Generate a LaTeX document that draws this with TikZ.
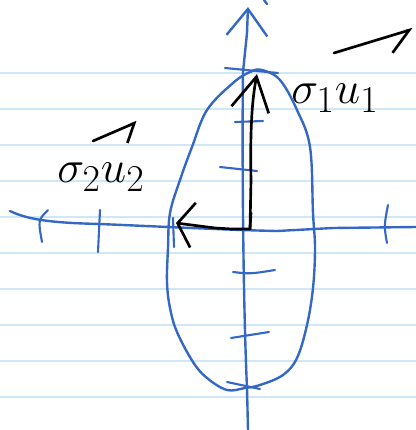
\documentclass[tikz,border=0pt]{standalone}
\usepackage{amsmath}
\usepackage{tikz}
\usetikzlibrary{arrows.meta,calc}
\definecolor{inkblue}{RGB}{52,104,196}
\definecolor{paperrule}{RGB}{208,231,248}
\newcommand{\bigvec}[1]{\scalebox{1.3}{$#1$}}
\tikzset{
  ruling/.style={draw=paperrule, line width=0.9pt},
  axisline/.style={draw=inkblue, line width=1.7pt, line cap=round, line join=round},
  tickmark/.style={draw=inkblue, line width=1.5pt, line cap=round},
  vecline/.style={draw=black, line width=1.9pt, line cap=round, line join=round},
  veclabel/.style={font=\fontsize{24.88}{30}\selectfont, inner sep=0pt}
}
\begin{document}
\begin{tikzpicture}[x=0.025cm, y=-0.025cm]
        \fill[white] (0,0) rectangle (416,430);
        \useasboundingbox (0,0) rectangle (416,430);
        \foreach \y in {73,109,...,397}
          \draw[ruling] (0,\y) -- (416,\y);
        \coordinate (o) at (250,229);
        \coordinate (ytip) at (248,7);
        \coordinate (ybot) at (248,430);
        \coordinate (xleft) at (10,211);
        \coordinate (xright) at (416,227);
        \coordinate (u1tip) at (257,74);
        \coordinate (u2tip) at (176,223);
        \draw[axisline] (xleft) .. controls (30,221) and (60,223) .. (100,224)
          .. controls (170,227) and (230,230) .. (277,231) -- (333,228) -- (xright);
        \draw[axisline, -{Straight Barb[length=19pt, width=29pt]}] (ybot) -- (247,388)
          .. controls (243,300) and (242,150) .. (243,72) -- (247,33) -- (ytip);
        \draw[axisline] (264,0) -- (267,4);
        \draw[axisline] plot[smooth cycle, tension=0.6] coordinates {
          (262,70) (280,80) (297,110) (310,147) (313,213) (315,248) (313,288)
          (307,325) (297,358) (283,375) (260,385) (245,388) (227,390) (207,378)
          (193,362) (177,332) (170,308) (167,282) (168,248) (170,213) (180,180)
          (192,147) (207,110) (233,83) (250,72)};
        \draw[tickmark] (225,68) -- (278,73);
        \draw[tickmark] (235,122) -- (263,121);
        \draw[tickmark] (220,167) -- (257,171);
        \draw[tickmark] (233,272) .. controls (250,274) .. (275,270);
        \draw[tickmark] (231,338) -- (269,332);
        \draw[tickmark] (227,382) -- (260,389);
        \draw[tickmark] (48,210) .. controls (38,220) .. (42,242);
        \draw[tickmark] (100,210) -- (98,252);
        \draw[tickmark] (173,218) -- (174,247);
        \draw[tickmark] (388,205) .. controls (384,226) .. (387,243);
        \draw[vecline, -{Straight Barb[length=24pt, width=27pt]}] (o) -- (251,180)
          .. controls (250,130) and (252,100) .. (u1tip);
        \draw[vecline, -{Straight Barb[length=11pt, width=32pt]}] (o) -- (251,213)
          (o) -- (232,229) -- (215,228) -- (u2tip);
        \node[veclabel] (s1u1) at (335,98) {\bigvec{\sigma_1 u_1}};
        \node[veclabel] (s2u2) at (101,177) {\bigvec{\sigma_2 u_2}};
        \coordinate (v1a) at (334,53);
        \coordinate (v1b) at (413,29);
        \coordinate (v2a) at (93,141);
        \coordinate (v2b) at (137,122);
        \draw[vecline, -{Straight Barb[harpoon, swap, length=16pt, width=24pt]}] (v1a) -- (v1b);
        \draw[vecline, -{Straight Barb[harpoon, swap, length=10pt, width=22pt]}] (v2a) -- (v2b);
      \end{tikzpicture}
\end{document}
